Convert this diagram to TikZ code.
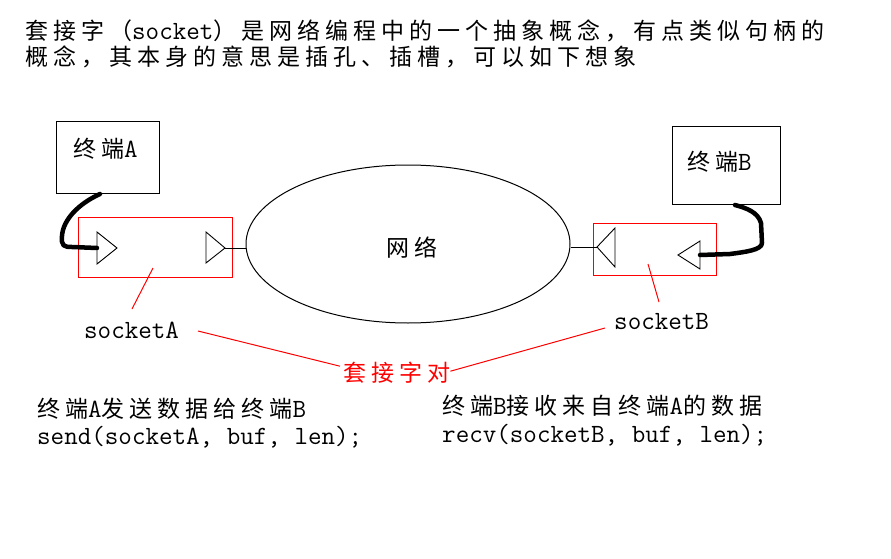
\documentclass[tikz,border=0pt]{standalone}
\usepackage{fontspec}
\usetikzlibrary{shapes.geometric}
\newfontfamily\cjkfont[LetterSpace=21.7]{Noto Sans CJK SC}
\newfontfamily\latfont{Latin Modern Mono}
\newcommand\la[1]{{\fontsize{26.3}{26}\selectfont\latfont #1}}
\begin{document}
\begin{tikzpicture}[x=1pt,y=-1pt,
  txt/.style={anchor=base west, inner sep=0pt, font=\fontsize{23}{26}\selectfont\cjkfont},
  redtxt/.style={txt, text=red},
  termbox/.style={draw, line width=1pt, inner sep=0pt},
  sockbox/.style={draw=red, line width=1pt, inner sep=0pt},
  tri/.style={draw, line width=0.9pt, line join=miter},
  wire/.style={draw, line width=4.5pt, line cap=round, line join=round},
  thin/.style={draw, line width=1pt},
  redline/.style={draw=red, line width=1pt}
]
\useasboundingbox[fill=white] (0,0) rectangle (891,559);

% intro text
\node[txt] (l1) at (25,39.5) {套接字（\la{socket}）是网络编程中的一个抽象概念，有点类似句柄的};
\node[txt] (l2) at (25,65.5) {概念，其本身的意思是插孔、插槽，可以如下想象};

% terminals
\node[termbox, minimum width=103pt, minimum height=71pt] (boxA) at (107.5,157.5) {};
\node[txt] (tA) at (73,157.5) {终端\la{A}};
\node[termbox, minimum width=108pt, minimum height=77pt] (boxB) at (726,165.5) {};
\node[txt] (tB) at (687,170) {终端\la{B}};

% network
\node[draw, ellipse, line width=1pt, minimum width=324pt, minimum height=158pt, inner sep=0pt] (net) at (408,244) {};
\node[txt] (tnet) at (386,256) {网络};

% socket boxes
\node[sockbox, minimum width=154pt, minimum height=60pt] (sA) at (155,247) {};
\node[sockbox, minimum width=123pt, minimum height=52pt] (sB) at (654.5,249) {};

% triangles A
\coordinate (a1b) at (97,248);
\coordinate (a1t) at (117,248);
\draw[tri] (97,232) -- (a1t) -- (97,264) -- cycle;
\coordinate (a2t) at (225,248);
\draw[tri] (206,232) -- (a2t) -- (206,263) -- cycle;
% triangles B
\coordinate (b1t) at (597,247);
\draw[tri] (615,228) -- (b1t) -- (615,267) -- cycle;
\coordinate (b2b) at (700,255);
\draw[tri] (700,241) -- (678,255) -- (700,269) -- cycle;

% links to network
\draw[thin] (a2t) -- (a2t -| net.west);
\draw[thin] (b1t) -- (b1t -| net.east);

% thick wires
\coordinate (wA) at (100,194);
\draw[wire] (wA) .. controls (78,204) and (63,220) .. (62,236)
  .. controls (61,246) and (64,247) .. (72,247) -- (a1b);
\coordinate (wB) at (735,205);
\draw[wire] (b2b) -- (730,254) .. controls (745,252) and (762,250) .. (762,243)
  -- (761,223) .. controls (758,212) and (746,208) .. (wB);

% labels
\node[txt] (lsA) at (84,338) {\la{socketA}};
\node[txt] (lsB) at (614,329) {\la{socketB}};
\node[redtxt] (pair) at (343,381) {套接字对};

\coordinate (pA1) at (153,268);
\coordinate (pA2) at (132,309);
\draw[redline] (pA1) -- (pA2);
\coordinate (pB1) at (648,264);
\coordinate (pB2) at (659,302);
\draw[redline] (pB1) -- (pB2);
\coordinate (qA) at (198,331);
\coordinate (qB) at (605,328);
\draw[redline] (qA) -- ([shift={(-3,-6)}]pair.west);
\draw[redline] ([shift={(0,-1)}]pair.east) -- (qB);

% bottom texts
\node[txt] (sendL1) at (37,417.5) {终端\la{A}发送数据给终端\la{B}};
\node[txt] (sendL2) at (37,444) {\la{send(socketA, buf, len);}};
\node[txt] (recvL1) at (442,414.5) {终端\la{B}接收来自终端\la{A}的数据};
\node[txt] (recvL2) at (442,442) {\la{recv(socketB, buf, len);}};
\end{tikzpicture}
\end{document}
